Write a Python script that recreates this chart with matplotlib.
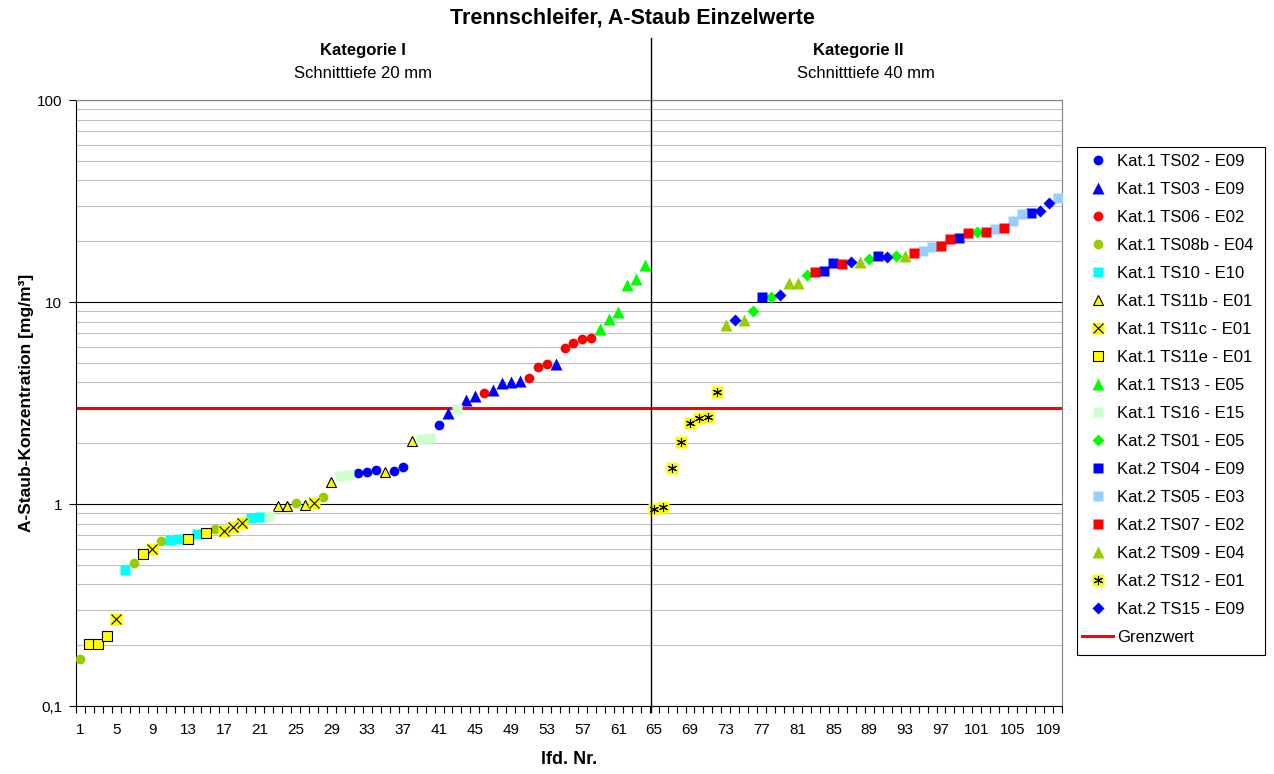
import matplotlib
matplotlib.use("Agg")
import matplotlib.pyplot as plt
from matplotlib.lines import Line2D
from matplotlib.patches import Rectangle
from matplotlib.ticker import FixedLocator, NullFormatter
import numpy as np

plt.rcParams['font.family'] = ['Liberation Sans', 'DejaVu Sans']

# series code for each lfd. Nr. (1..110)
series = (['TS08b', 'TS11e', 'TS11e', 'TS11e', 'TS11c', 'TS10', 'TS08b', 'TS11e', 'TS11c', 'TS08b',
           'TS10', 'TS10', 'TS11e', 'TS10', 'TS11e', 'TS08b', 'TS11c', 'TS11c', 'TS11c', 'TS10',
           'TS10', 'TS16', 'TS11b', 'TS11b', 'TS08b', 'TS11b', 'TS11c', 'TS08b', 'TS11b', 'TS16',
           'TS16', 'TS02', 'TS02', 'TS02', 'TS11b', 'TS02', 'TS02', 'TS11b', 'TS16', 'TS16',
           'TS02', 'TS03', 'TS16', 'TS03', 'TS03', 'TS06', 'TS03', 'TS03', 'TS03', 'TS03',
           'TS06', 'TS06', 'TS06', 'TS03', 'TS06', 'TS06', 'TS06', 'TS06', 'TS13', 'TS13',
           'TS13', 'TS13', 'TS13', 'TS13']
          + ['TS12'] * 8
          + ['TS09', 'TS15', 'TS09', 'TS01', 'TS04', 'TS01', 'TS15', 'TS09',
             'TS09', 'TS01', 'TS07', 'TS04', 'TS04', 'TS07', 'TS15', 'TS09', 'TS01', 'TS04',
             'TS15', 'TS01', 'TS09', 'TS07', 'TS05', 'TS05', 'TS07', 'TS07', 'TS04', 'TS07',
             'TS01', 'TS07', 'TS05', 'TS07', 'TS05', 'TS05', 'TS04', 'TS15', 'TS15', 'TS05'])

# A-Staub concentration [mg/m3]
values = [0.171, 0.203, 0.203, 0.223, 0.27, 0.471, 0.508, 0.565, 0.597, 0.658,
          0.663, 0.668, 0.673, 0.71, 0.716, 0.75, 0.738, 0.772, 0.802, 0.85,
          0.859, 0.868, 0.977, 0.977, 1.008, 0.99, 1.008, 1.079, 1.29, 1.376,
          1.39, 1.419, 1.445, 1.473, 1.445, 1.46, 1.53, 2.06, 2.09, 2.11,
          2.47, 2.83, 2.94, 3.27, 3.44, 3.56, 3.67, 3.96, 4.0, 4.08,
          4.22, 4.75, 4.93, 4.93, 5.9, 6.25, 6.56, 6.6, 7.33, 8.24,
          8.95, 12.1, 12.95, 15.2, 0.945, 0.963, 1.5, 2.03, 2.51, 2.67,
          2.7, 3.57, 7.7, 8.15, 8.15, 9.0, 10.6, 10.6, 10.8, 12.4,
          12.4, 13.6, 14.1, 14.3, 15.6, 15.4, 15.8, 15.8, 16.3, 16.9,
          16.7, 16.9, 16.9, 17.5, 17.9, 18.7, 19.0, 20.5, 20.8, 22.0,
          22.2, 22.2, 22.9, 23.3, 25.3, 27.2, 27.7, 28.3, 31.0, 32.6]

legend_labels = {
    'TS02': 'Kat.1 TS02 - E09', 'TS03': 'Kat.1 TS03 - E09', 'TS06': 'Kat.1 TS06 - E02',
    'TS08b': 'Kat.1 TS08b - E04', 'TS10': 'Kat.1 TS10 - E10', 'TS11b': 'Kat.1 TS11b - E01',
    'TS11c': 'Kat.1 TS11c - E01', 'TS11e': 'Kat.1 TS11e - E01', 'TS13': 'Kat.1 TS13 - E05',
    'TS16': 'Kat.1 TS16 - E15', 'TS01': 'Kat.2 TS01 - E05', 'TS04': 'Kat.2 TS04 - E09',
    'TS05': 'Kat.2 TS05 - E03', 'TS07': 'Kat.2 TS07 - E02', 'TS09': 'Kat.2 TS09 - E04',
    'TS12': 'Kat.2 TS12 - E01', 'TS15': 'Kat.2 TS15 - E09',
}
grenzwert = 3.0

# marker styles: (marker, face, edge, size, overlay marker)
styles = {
    'TS02': ('o', '#0000FF', 'none', 7, None),
    'TS03': ('^', '#0000FF', 'none', 8, None),
    'TS06': ('o', '#FF0000', 'none', 7, None),
    'TS08b': ('o', '#99CC00', 'none', 7, None),
    'TS10': ('s', '#00FFFF', 'none', 7, None),
    'TS11b': ('^', '#FFFF00', 'black', 7.5, None),
    'TS11c': ('s', '#FFFF00', 'none', 8, 'x'),
    'TS11e': ('s', '#FFFF00', 'black', 6.5, None),
    'TS13': ('^', '#00FF00', 'none', 8, None),
    'TS16': ('s', '#CCFFCC', 'none', 7, None),
    'TS01': ('D', '#00FF00', 'none', 6, None),
    'TS04': ('s', '#0000FF', 'none', 7, None),
    'TS05': ('s', '#99CCFF', 'none', 7, None),
    'TS07': ('s', '#FF0000', 'none', 7, None),
    'TS09': ('^', '#99CC00', 'none', 8, None),
    'TS12': ('s', '#FFFF00', 'none', 8, (6, 2, 0)),
    'TS15': ('D', '#0000FF', 'none', 6, None),
}

W, H = 1274, 774
fig = plt.figure(figsize=(W / 100, H / 100), dpi=100)
ax = fig.add_axes([76 / W, 68 / H, 986 / W, 606 / H])

nr = np.arange(1, len(values) + 1)
vals = np.array(values)
codes = np.array(series)

def make_handles(key, x=(), y=()):
    m, fc, ec, ms, ov = styles[key]
    parts = [Line2D(x, y, ls='none', marker=m, ms=ms, mfc=fc, mec=ec, mew=0.8)]
    if ov is not None:
        parts.append(Line2D(x, y, ls='none', marker=ov, ms=6.5, color='black', mew=0.8))
    return parts

handles, labels = [], []
for key in legend_labels:
    sel = codes == key
    for ln in make_handles(key, nr[sel], vals[sel]):
        ax.add_line(ln)
        ln.set_zorder(3)
    h = make_handles(key)
    handles.append(tuple(h) if len(h) > 1 else h[0])
    labels.append(legend_labels[key])

ax.axhline(grenzwert, color='#FF0000', lw=2.2, zorder=2.5)
handles.append(Line2D([], [], color='#FF0000', lw=2.2))
labels.append('Grenzwert')

# axes
ax.set_yscale('log')
ax.set_ylim(0.1, 100)
ax.set_xlim(0.5, len(values) + 0.5)
ax.yaxis.set_major_locator(FixedLocator([0.1, 1, 10, 100]))
ax.set_yticklabels(['0,1', '1', '10', '100'], fontsize=11)
ax.yaxis.set_minor_locator(FixedLocator([m * 10.0 ** e for e in (-1, 0, 1) for m in range(2, 10)]))
ax.yaxis.set_minor_formatter(NullFormatter())
ax.tick_params(axis='y', which='major', direction='out', length=5, width=0.8, pad=5)
ax.tick_params(axis='y', which='minor', length=0)
ax.grid(True, axis='y', which='major', color='black', lw=0.8, zorder=1)
ax.grid(True, axis='y', which='minor', color='#C0C0C0', lw=0.8, zorder=1)
ax.set_axisbelow(True)

ax.set_xticks(np.arange(1, len(values) + 1, 4))
ax.set_xticklabels([str(i) for i in range(1, len(values) + 1, 4)], fontsize=11)
ax.xaxis.set_minor_locator(FixedLocator(np.arange(0.5, len(values) + 1, 1)))
ax.tick_params(axis='x', which='major', length=0, pad=12)
ax.tick_params(axis='x', which='minor', direction='out', length=5, width=0.8)

for s in ('top', 'right'):
    ax.spines[s].set_color('#808080')
for s in ('left', 'bottom'):
    ax.spines[s].set_color('black')

# category divider
ax.plot([64.7, 64.7], [-0.01, 1.102], color='black', lw=1, transform=ax.get_xaxis_transform(),
        clip_on=False, zorder=4)

ax.set_ylabel('A-Staub-Konzentration [mg/m³]', fontsize=12.5, fontweight='bold')
ax.yaxis.set_label_coords((34 - 76) / 986, 0.5)
ax.set_xlabel('lfd. Nr.', fontsize=13, fontweight='bold')
ax.xaxis.set_label_coords(0.5, -(751 - 706) / 606)

fig.text(632 / W, 1 - 18 / H, 'Trennschleifer, A-Staub Einzelwerte', ha='center', va='center',
         fontsize=15.5, fontweight='bold')
fig.text(363 / W, 1 - 50 / H, 'Kategorie I', ha='center', va='center', fontsize=12, fontweight='bold')
fig.text(363 / W, 1 - 73 / H, 'Schnitttiefe 20 mm', ha='center', va='center', fontsize=12)
fig.text(858 / W, 1 - 50 / H, 'Kategorie II', ha='center', va='center', fontsize=12, fontweight='bold')
fig.text(866 / W, 1 - 73 / H, 'Schnitttiefe 40 mm', ha='center', va='center', fontsize=12)

# legend with its own frame
fig.add_artist(Rectangle((1077 / W, 1 - 655 / H), 188 / W, 508 / H, transform=fig.transFigure,
                         fill=False, edgecolor='black', lw=0.8))
fig.legend(handles, labels, loc='upper left', bbox_to_anchor=(1082 / W, 1 - 154 / H),
           frameon=False, fontsize=12, labelspacing=0.78, handlelength=1.86,
           borderpad=0, borderaxespad=0, handletextpad=0.24)

fig.savefig('out.png', dpi=100)
